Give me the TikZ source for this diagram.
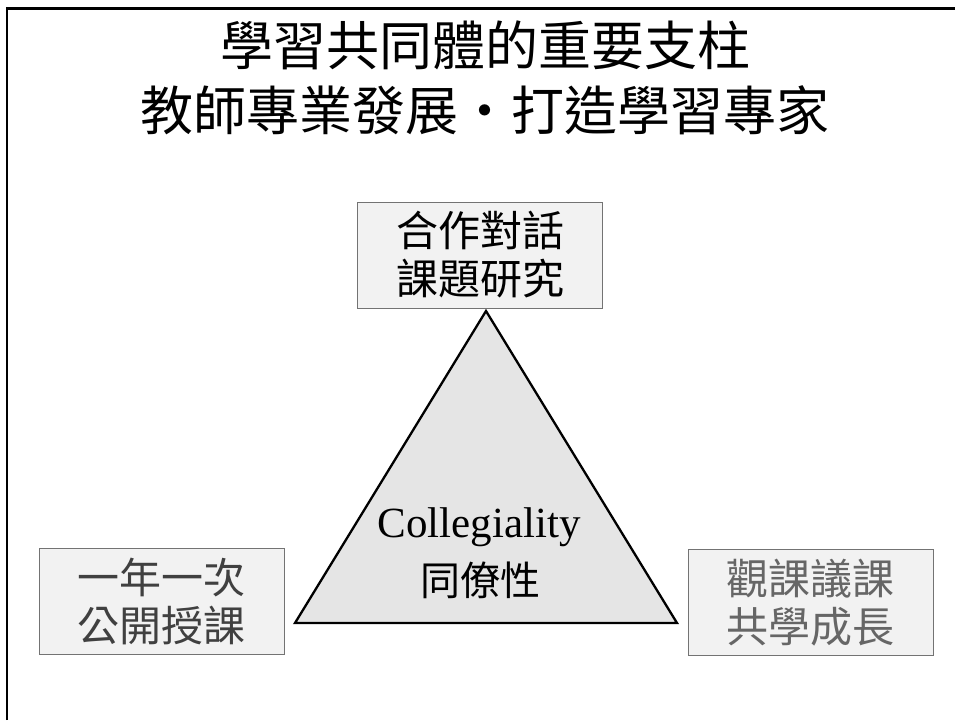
\documentclass[tikz,border=0pt]{standalone}
\usepackage{fontspec}
\setmainfont{Liberation Serif}
\newfontfamily\cjk{Noto Sans CJK TC}
\usepackage{tikz}
\usetikzlibrary{positioning}
\tikzset{pillar/.style={draw=black!55,fill=black!5,line width=0.8pt,
        minimum width=245pt,minimum height=106pt,inner sep=0pt,align=center,
        font=\cjk\fontsize{42}{48}\selectfont},
    frame/.style={draw,line width=2.5pt},
    core/.style={draw,line width=2.3pt,fill=black!10,line join=miter}}

\begin{document}
\begin{tikzpicture}[x=1pt,y=-1pt]
    % Page size and slide frame
    \useasboundingbox (0,0) rectangle (955,720);
    \draw[frame] (7,720) -- (7,8.5) -- (955,8.5);

    % Title
    \node[font=\cjk\fontsize{53}{65}\selectfont, align=center] (title) at (485,78)
        {學習共同體的重要支柱\\教師專業發展・打造學習專家};

    % Central triangle
    \coordinate (apex) at (486,311);
    \coordinate (baseL) at (295,623);
    \coordinate (baseR) at (677,623);
    \draw[core] (apex) -- (baseR) -- (baseL) -- cycle;
    \node[font=\fontsize{43}{46}\selectfont] (coll) at (479,527) {Collegiality};
    \node[font=\cjk\fontsize{40}{44}\selectfont] (peer) at (480,580) {同僚性};

    % The three pillars
    \node[pillar] (talk) at (480,255) {合作對話\\課題研究};
    \node[pillar, text=black!75] (open) at (161.5,601) {一年一次\\公開授課};
    \node[pillar, text=black!60] (watch) at (810.5,602.5) {觀課議課\\共學成長};
\end{tikzpicture}
\end{document}
